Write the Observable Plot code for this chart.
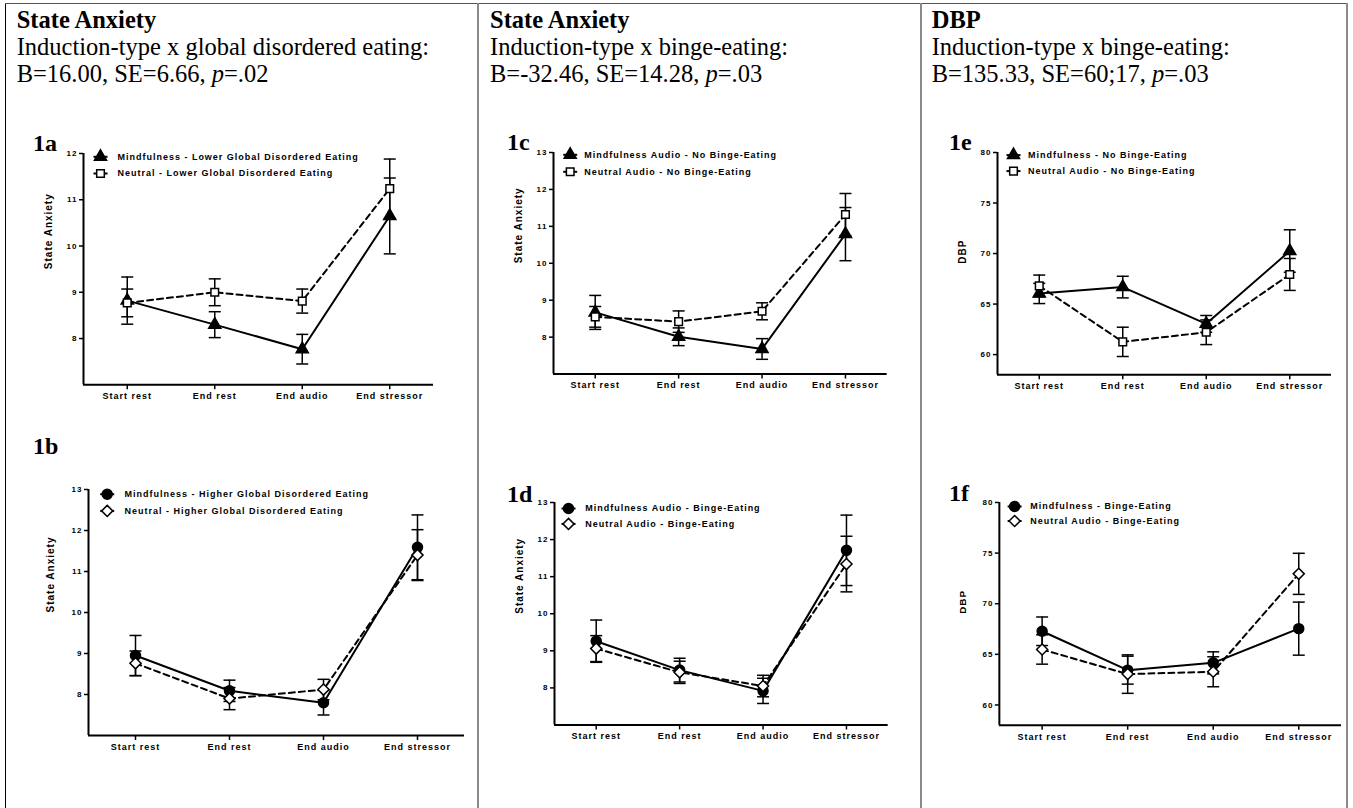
<!DOCTYPE html>
<html><head><meta charset="utf-8">
<script src="https://cdn.jsdelivr.net/npm/d3@7"></script>
<script src="https://cdn.jsdelivr.net/npm/@observablehq/plot@0.6"></script>
<style>
html,body{margin:0;padding:0;background:#fff;}
#page{position:relative;width:1353px;height:808px;overflow:hidden;background:#fff;}
.panel{position:absolute;}
#overlay{position:absolute;left:0;top:0;pointer-events:none;}
</style></head>
<body><div id="page"></div>
<script>
// ---------- data ----------
const stages = ["Start rest", "End rest", "End audio", "End stressor"];

// 1a State anxiety, lower global disordered eating
const a_mindfulness = [8.82, 8.30, 7.77, 10.65];
const a_mindfulness_se = [0.51, 0.28, 0.32, 0.82];
const a_neutral = [8.77, 9.00, 8.81, 11.24];
const a_neutral_se = [0.30, 0.29, 0.26, 0.64];

// 1b State anxiety, higher global disordered eating
const b_mindfulness = [8.95, 8.09, 7.80, 11.59];
const b_mindfulness_se = [0.49, 0.26, 0.30, 0.79];
const b_neutral = [8.76, 7.90, 8.12, 11.40];
const b_neutral_se = [0.30, 0.27, 0.25, 0.62];

// 1c State anxiety, no binge-eating
const c_mindfulness = [8.67, 8.01, 7.68, 10.79];
const c_mindfulness_se = [0.46, 0.24, 0.28, 0.72];
const c_neutral = [8.55, 8.42, 8.70, 11.32];
const c_neutral_se = [0.28, 0.29, 0.23, 0.57];

// 1d State anxiety, binge-eating
const d_mindfulness = [9.26, 8.48, 7.92, 11.71];
const d_mindfulness_se = [0.57, 0.32, 0.34, 0.95];
const d_neutral = [9.06, 8.42, 8.05, 11.34];
const d_neutral_se = [0.35, 0.30, 0.29, 0.75];

// 1e DBP, no binge-eating
const e_mindfulness = [66.05, 66.68, 63.04, 70.25];
const e_mindfulness_se = [1.00, 1.07, 0.83, 2.10];
const e_neutral = [66.80, 61.26, 62.21, 67.93];
const e_neutral_se = [1.07, 1.45, 1.22, 1.58];

// 1f DBP, binge-eating
const f_mindfulness = [67.28, 63.44, 64.16, 67.54];
const f_mindfulness_se = [1.41, 1.38, 1.09, 2.62];
const f_neutral = [65.48, 63.05, 63.28, 72.95];
const f_neutral_se = [1.45, 1.90, 1.48, 2.03];

const ticks_a = [8, 9, 10, 11, 12];
const ticks_anxiety = [8, 9, 10, 11, 12, 13];
const ticks_dbp = [60, 65, 70, 75, 80];

const headerTitles = ["State Anxiety", "State Anxiety", "DBP"];
const headerEffects = ["Induction-type x global disordered eating:", "Induction-type x binge-eating:", "Induction-type x binge-eating:"];
const headerStats = ["B=16.00, SE=6.66, ", "B=-32.46, SE=14.28, ", "B=135.33, SE=60;17, "];
const headerP = ["=.02", "=.03", "=.03"];

const legends = {
  a: ["Mindfulness - Lower Global Disordered Eating", "Neutral - Lower Global Disordered Eating"],
  b: ["Mindfulness - Higher Global Disordered Eating", "Neutral - Higher Global Disordered Eating"],
  c: ["Mindfulness Audio - No Binge-Eating", "Neutral Audio - No Binge-Eating"],
  d: ["Mindfulness Audio - Binge-Eating", "Neutral Audio - Binge-Eating"],
  e: ["Mindfulness - No Binge-Eating", "Neutral Audio - No Binge-Eating"],
  f: ["Mindfulness - Binge-Eating", "Neutral Audio - Binge-Eating"]
};

// ---------- layout ----------
const tri = {name: "triangle", r: 4.5, fill: "black"};
const sq = {name: "square", r: 4.3, fill: "white"};
const circ = {name: "circle", r: 5, fill: "black"};
const diam = {name: "diamond2", r: 5, fill: "white"};

const panels = [
  {id: "1a", mind: a_mindfulness, mindSe: a_mindfulness_se, neut: a_neutral, neutSe: a_neutral_se,
   legend: legends.a, syms: [tri, sq], yLabel: "State Anxiety", yDomain: [7, 12], yTicks: ticks_a,
   g: {L: 83, R: 433, T: 152.7, B: 384}, leg: {m: 17, t: 34, r: [3.3, 20]}, lab: 35, tag: {x: 33, y: 150.7}},
  {id: "1b", mind: b_mindfulness, mindSe: b_mindfulness_se, neut: b_neutral, neutSe: b_neutral_se,
   legend: legends.b, syms: [circ, diam], yLabel: "State Anxiety", yDomain: [7, 13], yTicks: ticks_anxiety,
   g: {L: 88, R: 464, T: 489.3, B: 735.3}, leg: {m: 18.7, t: 36, r: [4.7, 21.4]}, lab: 38, tag: {x: 33, y: 454}},
  {id: "1c", mind: c_mindfulness, mindSe: c_mindfulness_se, neut: c_neutral, neutSe: c_neutral_se,
   legend: legends.c, syms: [tri, sq], yLabel: "State Anxiety", yDomain: [7, 13], yTicks: ticks_anxiety,
   g: {L: 553.3, R: 887, T: 151.7, B: 373.3}, leg: {m: 16.7, t: 30.7, r: [2.3, 19.3]}, lab: 35, tag: {x: 507, y: 150}},
  {id: "1d", mind: d_mindfulness, mindSe: d_mindfulness_se, neut: d_neutral, neutSe: d_neutral_se,
   legend: legends.d, syms: [circ, diam], yLabel: "State Anxiety", yDomain: [7, 13], yTicks: ticks_anxiety,
   g: {L: 554.3, R: 888, T: 502.3, B: 724.8}, leg: {m: 14, t: 30.7, r: [6, 21.4]}, lab: 35, tag: {x: 507, y: 501.7}},
  {id: "1e", mind: e_mindfulness, mindSe: e_mindfulness_se, neut: e_neutral, neutSe: e_neutral_se,
   legend: legends.e, syms: [tri, sq], yLabel: "DBP", yDomain: [58, 80], yTicks: ticks_dbp,
   g: {L: 996.7, R: 1330.7, T: 151.7, B: 374}, leg: {m: 16, t: 30.6, r: [2.6, 18.6]}, lab: 35, tag: {x: 949, y: 150}},
  {id: "1f", mind: f_mindfulness, mindSe: f_mindfulness_se, neut: f_neutral, neutSe: f_neutral_se,
   legend: legends.f, syms: [circ, diam], yLabel: "DBP", yDomain: [58, 80], yTicks: ticks_dbp,
   g: {L: 999, R: 1342, T: 501.7, B: 725}, leg: {m: 15.3, t: 31, r: [4, 18.6]}, lab: 37, tag: {x: 949, y: 501}}
];

const cap = {draw(ctx) { ctx.moveTo(-6, 0); ctx.lineTo(6, 0); }};
const legLine = {draw(ctx) { ctx.moveTo(-7, 0); ctx.lineTo(7, 0); }};

const page = document.getElementById("page");

function makePanel(p) {
  const rows = (v, se) => stages.map((s, i) => ({i, stage: s, v: v[i], se: se[i]}));
  const series = [
    {rows: rows(p.mind, p.mindSe), dash: null, sym: p.syms[0]},
    {rows: rows(p.neut, p.neutSe), dash: "6,4", sym: p.syms[1]}
  ];
  const ml = 60, mr = 12, mt = 12, mb = 30;
  const width = p.g.R - p.g.L + ml + mr, height = p.g.B - p.g.T + mt + mb;
  const xDomain = [-0.5, stages.length - 0.5];
  const marks = [
    Plot.ruleY([p.yDomain[0]], {stroke: "black", strokeWidth: 2}),
    Plot.ruleX([xDomain[0]], {stroke: "black", strokeWidth: 2}),
    Plot.axisX(stages.map((s, i) => i), {tickFormat: i => stages[i], tickSize: 5, tickPadding: 3, fontSize: 9, label: null, strokeWidth: 1.5}),
    Plot.axisY(p.yTicks, {tickSize: 4, tickPadding: 2, fontSize: 8, label: null, strokeWidth: 1.5}),
    Plot.text([p.yLabel], {text: d => d, frameAnchor: "left", rotate: -90, dx: -p.lab, fontSize: 10})
  ];
  for (const s of series) {
    marks.push(Plot.ruleX(s.rows, {x: "i", y1: d => d.v - d.se, y2: d => d.v + d.se, stroke: "black", strokeWidth: 1.5}));
    marks.push(Plot.dot(s.rows, {x: "i", y: d => d.v + d.se, symbol: cap, stroke: "black", strokeWidth: 1.5, fill: "none"}));
    marks.push(Plot.dot(s.rows, {x: "i", y: d => d.v - d.se, symbol: cap, stroke: "black", strokeWidth: 1.5, fill: "none"}));
  }
  for (const s of series) {
    marks.push(Plot.line(s.rows, {x: "i", y: "v", stroke: "black", strokeWidth: 2, strokeDasharray: s.dash || undefined}));
  }
  for (const s of series) {
    marks.push(Plot.dot(s.rows, {x: "i", y: "v", symbol: s.sym.name, r: s.sym.r, fill: s.sym.fill, stroke: "black", strokeWidth: 1.5}));
  }
  p.legend.forEach((label, k) => {
    const dy = p.leg.r[k], s = series[k];
    marks.push(Plot.dot([0], {frameAnchor: "top-left", dx: p.leg.m, dy, symbol: legLine, stroke: "black", strokeWidth: 2, fill: "none"}));
    marks.push(Plot.dot([0], {frameAnchor: "top-left", dx: p.leg.m, dy, symbol: s.sym.name, r: s.sym.r, fill: s.sym.fill, stroke: "black", strokeWidth: 1.5}));
    marks.push(Plot.text([label], {frameAnchor: "top-left", dx: p.leg.t, dy, text: d => d, textAnchor: "start", lineAnchor: "middle", fontSize: 9}));
  });
  const chart = Plot.plot({
    width, height, marginLeft: ml, marginRight: mr, marginTop: mt, marginBottom: mb,
    x: {domain: xDomain},
    y: {domain: p.yDomain},
    style: {fontFamily: "'Liberation Sans', Arial, sans-serif", fontWeight: "bold", letterSpacing: "1px", background: "transparent", overflow: "visible"},
    marks
  });
  const div = document.createElement("div");
  div.className = "panel";
  div.style.left = (p.g.L - ml) + "px";
  div.style.top = (p.g.T - mt) + "px";
  div.appendChild(chart);
  page.appendChild(div);
}
panels.forEach(makePanel);

// ---------- overlay: table lines, headers, panel tags ----------
const ov = d3.select(page).append("svg").attr("id", "overlay").attr("width", 1353).attr("height", 808);
ov.append("line").attr("x1", 5.5).attr("x2", 5.5).attr("y1", 3).attr("y2", 808).attr("stroke", "#000").attr("stroke-width", 1);
ov.append("line").attr("x1", 5).attr("x2", 1348).attr("y1", 3.5).attr("y2", 3.5).attr("stroke", "#555").attr("stroke-width", 1);
[478, 921, 1347].forEach(x => ov.append("line").attr("x1", x).attr("x2", x).attr("y1", 3).attr("y2", 808).attr("stroke", "#8a8a8a").attr("stroke-width", 2));

const colX = [16.7, 490, 931.7];
const serif = "'Liberation Serif', 'Times New Roman', serif";
colX.forEach((x, c) => {
  ov.append("text").attr("x", x).attr("y", 27.7).attr("font-family", serif).attr("font-size", 24.5).attr("font-weight", "bold").text(headerTitles[c]);
  ov.append("text").attr("x", x).attr("y", 55).attr("font-family", serif).attr("font-size", 24.5).text(headerEffects[c]);
  const t = ov.append("text").attr("x", x).attr("y", 81.7).attr("font-family", serif).attr("font-size", 24.5);
  t.append("tspan").text(headerStats[c]);
  t.append("tspan").attr("font-style", "italic").text("p");
  t.append("tspan").text(headerP[c]);
});
panels.forEach(p => {
  ov.append("text").attr("x", p.tag.x).attr("y", p.tag.y).attr("font-family", serif).attr("font-size", 24).attr("font-weight", "bold").text(p.id);
});
</script>
</body></html>
